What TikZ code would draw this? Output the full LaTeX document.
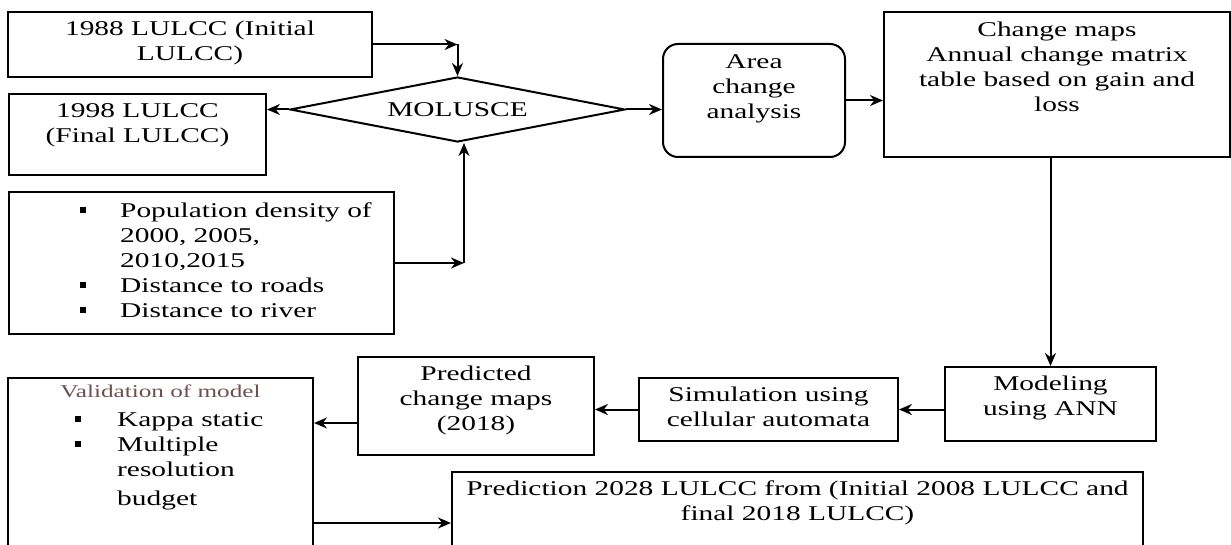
\documentclass[tikz,border=0pt]{standalone}
\usepackage{fontspec}
\setmainfont{Liberation Serif}[FakeStretch=1.4]
\usepackage{xcolor}
\usetikzlibrary{arrows.meta,positioning,shapes.geometric,calc}

\definecolor{valtext}{RGB}{110,80,80}
\newcommand{\sqb}{\rule[0.22em]{6pt}{6pt}}

\begin{document}
\begin{tikzpicture}[
  x=1pt, y=-1pt,
  >={Stealth[length=13pt,width=11pt]},
  every node/.style={font=\fontsize{21}{25}\selectfont},
  box/.style={draw, line width=2pt, inner sep=0pt},
  txt/.style={align=center, inner sep=0pt},
  lst/.style={inner sep=0pt, anchor=north west},
  arr/.style={->, line width=2pt},
]
  \useasboundingbox (0,0) rectangle (1231,545);
  \clip (0,0) rectangle (1231,545);

  % inputs and MOLUSCE
  \node[box, minimum width=364pt, minimum height=65pt] (b1988) at (190,44.5) {};
  \node[txt, below=10pt of b1988.north] (t1988) {1988 LULCC (Initial\\LULCC)};
  \node[box, minimum width=257pt, minimum height=81pt] (b1998) at (137.5,134.5) {};
  \node[txt, below=10pt of b1998.north] (t1998) {1998 LULCC\\(Final LULCC)};
  \node[box, minimum width=385pt, minimum height=142pt] (pop) at (201.5,263) {};
  \node[lst] (tpop) at (80,200) {\begin{tabular}{@{}l@{\hspace{34pt}}l@{}}
    \sqb & Population density of\\
         & 2000, 2005,\\
         & 2010,2015\\
    \sqb & Distance to roads\\
    \sqb & Distance to river
  \end{tabular}};
  \node[box, diamond, shape aspect=5.15, minimum width=335pt, minimum height=65pt] (dmd) at (457.5,109.5) {MOLUSCE};

  % change analysis
  \node[box, rounded corners=15pt, minimum width=182pt, minimum height=113pt] (area) at (754,100.5) {};
  \node[txt, below=11pt of area.north] (tarea) {Area\\change\\analysis};
  \node[box, minimum width=346pt, minimum height=145pt] (chg) at (1057,84.5) {};
  \node[txt, below=11pt of chg.north] (tchg) {Change maps\\Annual change matrix\\table based on gain and\\loss};

  % modelling and prediction
  \node[box, minimum width=211pt, minimum height=74pt] (model) at (1050.5,404) {};
  \node[txt, below=10pt of model.north] (tmodel) {Modeling\\using ANN};
  \node[box, minimum width=259pt, minimum height=63pt] (sim) at (768.5,409.5) {};
  \node[txt, below=10pt of sim.north] (tsim) {Simulation using\\cellular automata};
  \node[box, minimum width=236pt, minimum height=98pt] (pred) at (476,406) {};
  \node[txt, below=10pt of pred.north] (tpred) {Predicted\\change maps\\(2018)};
  \node[box, minimum width=305pt, minimum height=222pt] (valid) at (160.5,489) {};
  \node[txt, below=8pt of valid.north, font=\fontsize{18}{21}\selectfont, text=valtext] (tvalid) {Validation of model};
  \node[lst] (tvlist) at (75,409) {\begin{tabular}{@{}l@{\hspace{36pt}}l@{}}
    \sqb & Kappa static\\
    \sqb & Multiple\\
         & resolution\\[4pt]
         & budget
  \end{tabular}};
  \node[box, minimum width=691pt, minimum height=128pt] (predict) at (797.5,536) {};
  \node[txt, below=10pt of predict.north] (tpredict) {Prediction 2028 LULCC from (Initial 2008 LULCC and\\final 2018 LULCC)};

  % connectors
  \draw[arr] (b1988.east) -- (b1988.east -| dmd.north) coordinate (k1);
  \draw[arr] (k1) -- (dmd.north);
  \draw[arr] (dmd.west) -- (dmd.west -| b1998.east);
  \coordinate (k2) at (464,263);
  \draw[arr] (pop.east) -- (k2);
  \draw[arr] (k2) -- (k2 |- dmd.south);
  \draw[arr] (dmd.east) -- (dmd.east -| area.west);
  \draw[arr] (area.east) -- (area.east -| chg.west);
  \draw[arr] (chg.south -| model.north) -- (model.north);
  \draw[arr] (model.west |- sim.east) -- (sim.east);
  \draw[arr] (sim.west) -- (sim.west -| pred.east);
  \coordinate (p4) at ($(pred.west)+(0,17)$);
  \draw[arr] (p4) -- (p4 -| valid.east);
  \coordinate (p5) at ($(predict.west)+(0,-13)$);
  \draw[arr] (p5 -| valid.east) -- (p5);
\end{tikzpicture}
\end{document}
